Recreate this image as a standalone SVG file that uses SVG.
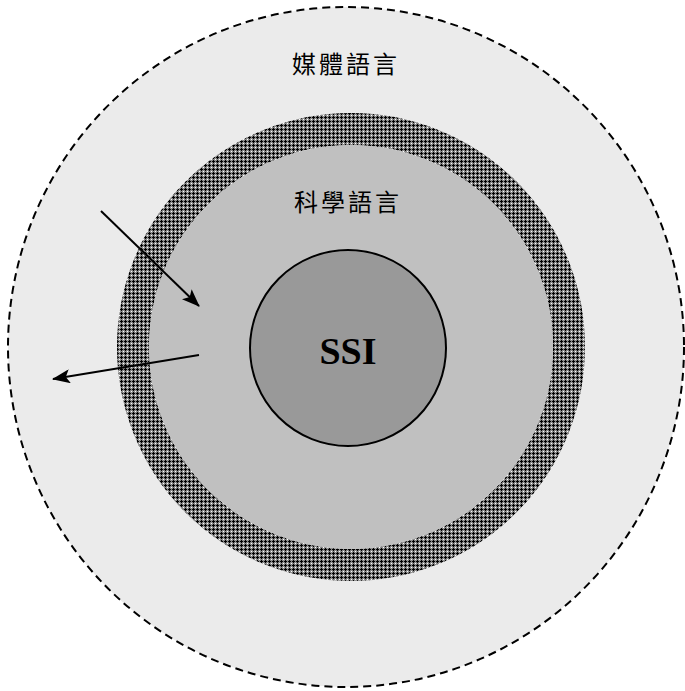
<svg xmlns="http://www.w3.org/2000/svg" width="685" height="691" viewBox="0 0 685 691">
<style>
.cjk{font-family:"Noto Sans CJK TC","Noto Sans CJK SC",sans-serif;font-size:24px;fill:#000;letter-spacing:3px}
.ssi{font-family:"Liberation Serif",serif;font-weight:bold;font-size:38px;fill:#000}
.arrow{stroke:#000;stroke-width:2;fill:none;marker-end:url(#ah)}
</style>
<defs>
<pattern id="hatch" width="4" height="4" patternUnits="userSpaceOnUse">
<rect width="4" height="4" fill="#8a8a8a"/>
<rect x="1" y="0" width="1" height="3" fill="#000"/>
<rect x="0" y="1" width="3" height="1" fill="#000"/>
<rect x="3" y="3" width="1" height="1" fill="#fff"/>
</pattern>
<marker id="ah" markerWidth="18" markerHeight="14" refX="17" refY="7" orient="auto" markerUnits="userSpaceOnUse">
<path d="M0,0 L18,7 L0,14 L4,7 Z" fill="#000"/>
</marker>
</defs>
<rect width="685" height="691" fill="#fff"/>
<g id="media">
<ellipse cx="346" cy="347" rx="338" ry="340" fill="#ebebeb" stroke="#000" stroke-width="2" stroke-dasharray="8,5"/>
<text class="cjk" x="346" y="73" text-anchor="middle">媒體語言</text>
</g>
<g id="science">
<circle cx="351" cy="347" r="218" fill="none" stroke="url(#hatch)" stroke-width="32"/>
<circle cx="351" cy="347" r="202" fill="#c0c0c0"/>
<text class="cjk" x="348" y="211" text-anchor="middle">科學語言</text>
</g>
<g id="ssi">
<circle cx="348" cy="348" r="98" fill="#999" stroke="#000" stroke-width="2"/>
<text class="ssi" x="348" y="364" text-anchor="middle">SSI</text>
</g>
<g id="connectors">
<line class="arrow" x1="101" y1="211" x2="199" y2="306"/>
<line class="arrow" x1="199" y1="355" x2="53" y2="379"/>
</g>
</svg>
